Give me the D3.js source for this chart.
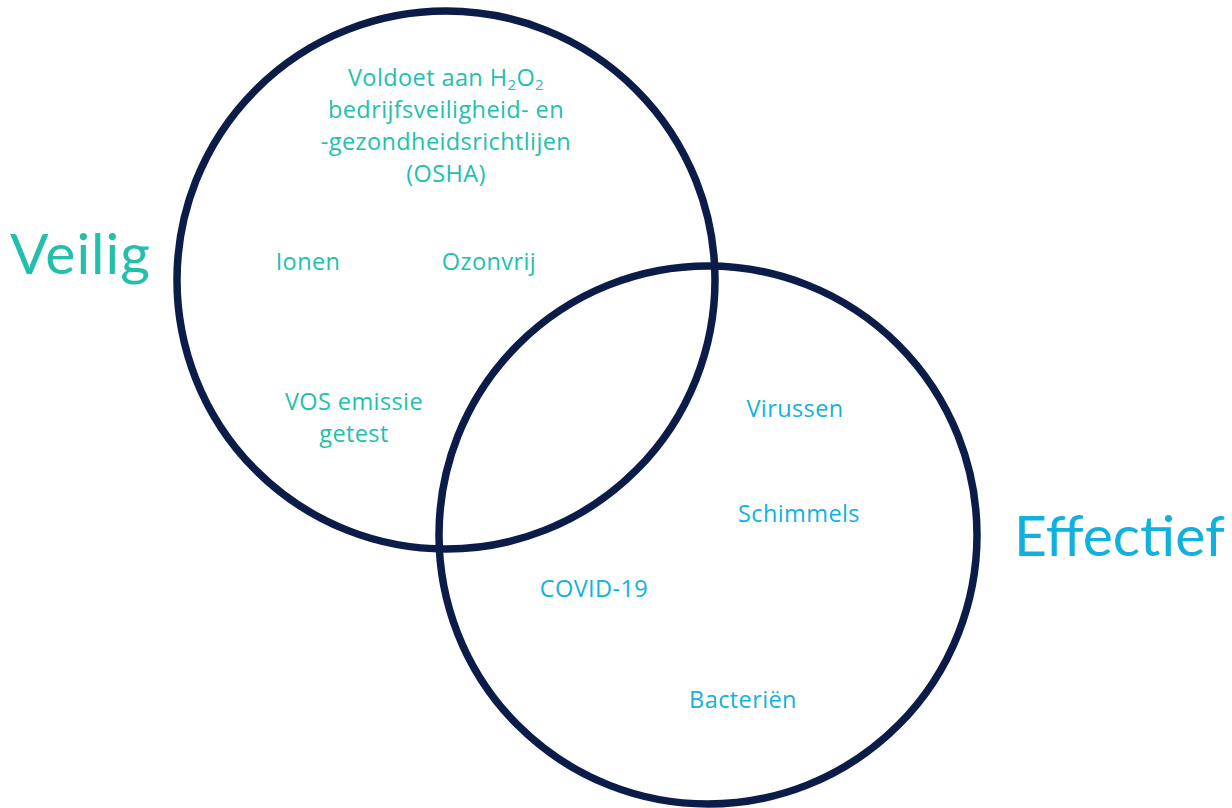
<!DOCTYPE html>
<html><head><meta charset="utf-8">
<script src="https://cdn.jsdelivr.net/npm/d3@7"></script>
<style>body{margin:0;background:#fff}svg{display:block}</style>
</head><body>
<script>
// Sets (circles) and their labels
const sets = ["Veilig", "Effectief"];
const setCenters = [[446, 280], [708, 535]];
const setRadius = 269;
const setColors = ["#22bfab", "#12b1dd"];
// set label anchors
const setLabelPos = [[10, 274], [1014, 556]];

// items inside the circles: text, set index, x, y
const itemTexts = ["Ionen", "Ozonvrij", "VOS emissie", "getest", "Virussen", "Schimmels", "COVID-19", "Bacteriën"];
const itemSet = [0, 0, 0, 0, 1, 1, 1, 1];
const itemX = [308, 489, 354, 354, 795, 799, 594, 743];
const itemY = [261, 261, 401, 433, 408, 513, 588, 699];

// multi-line heading in the Veilig circle
const headLines = ["bedrijfsveiligheid- en", "-gezondheidsrichtlijen", "(OSHA)"];
const headY = [109, 141, 173];

const W = 1232, H = 808;
const svg = d3.select("body").append("svg").attr("width", W).attr("height", H);
const bigFont = "Lato, 'Open Sans', sans-serif";
const font = "'Open Sans', Lato, sans-serif";
const fs = 23.5;
const ls = 0.4;

svg.selectAll("circle.set").data(sets).join("circle")
  .attr("class", "set")
  .attr("cx", (d, i) => setCenters[i][0])
  .attr("cy", (d, i) => setCenters[i][1])
  .attr("r", setRadius)
  .attr("fill", "none")
  .attr("stroke", "#0b1c48")
  .attr("stroke-width", 7.5);

svg.selectAll("text.setlabel").data(sets).join("text")
  .attr("class", "setlabel")
  .attr("x", (d, i) => setLabelPos[i][0])
  .attr("y", (d, i) => setLabelPos[i][1])
  .attr("fill", (d, i) => setColors[i])
  .attr("font-family", bigFont)
  .attr("font-size", 57)
  .attr("letter-spacing", (d, i) => i === 0 ? 1 : 0)
  .text(d => d);

svg.selectAll("text.item").data(itemTexts).join("text")
  .attr("class", "item")
  .attr("x", (d, i) => itemX[i])
  .attr("y", (d, i) => itemY[i])
  .attr("text-anchor", "middle")
  .attr("dominant-baseline", "central")
  .attr("fill", (d, i) => setColors[itemSet[i]])
  .attr("font-family", font)
  .attr("font-size", fs)
  .attr("letter-spacing", ls)
  .text(d => d);

// first heading line with subscripts
const t = svg.append("text")
  .attr("x", 446).attr("y", 77)
  .attr("text-anchor", "middle")
  .attr("dominant-baseline", "central")
  .attr("fill", setColors[0])
  .attr("font-family", font)
  .attr("font-size", fs)
  .attr("letter-spacing", ls);
t.append("tspan").text("Voldoet aan H");
t.append("tspan").attr("font-size", 15).attr("dy", 7).text("2");
t.append("tspan").attr("dy", -7).text("O");
t.append("tspan").attr("font-size", 15).attr("dy", 7).text("2");

svg.selectAll("text.head").data(headLines).join("text")
  .attr("class", "head")
  .attr("x", 446)
  .attr("y", (d, i) => headY[i])
  .attr("text-anchor", "middle")
  .attr("dominant-baseline", "central")
  .attr("fill", setColors[0])
  .attr("font-family", font)
  .attr("font-size", fs)
  .attr("letter-spacing", ls)
  .text(d => d);
</script>
</body></html>
